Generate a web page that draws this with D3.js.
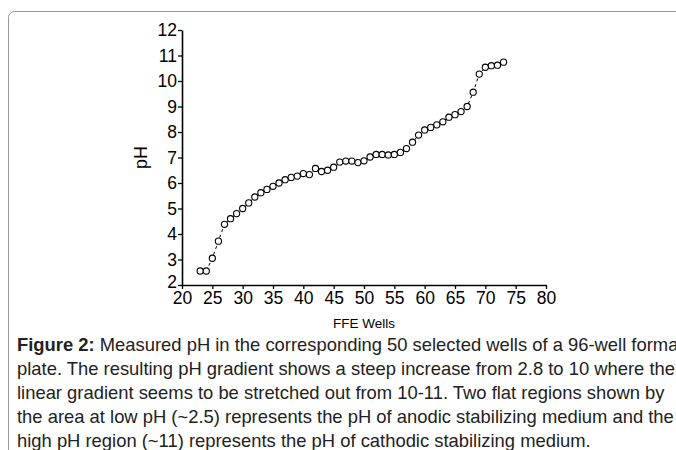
<!DOCTYPE html>
<html><head><meta charset="utf-8">
<script src="https://cdn.jsdelivr.net/npm/d3@7"></script>
<style>body{margin:0;background:#fff}svg{display:block}</style>
</head><body>
<script>
const wells = d3.range(23, 74);
const ph = [2.55,2.55,3.05,3.72,4.38,4.6,4.8,5.0,5.22,5.45,5.62,5.75,5.87,6.0,6.13,6.22,6.27,6.37,6.33,6.57,6.45,6.5,6.62,6.82,6.86,6.86,6.8,6.87,7.02,7.12,7.12,7.1,7.12,7.2,7.35,7.6,7.88,8.08,8.18,8.28,8.4,8.58,8.68,8.8,9.0,9.56,10.27,10.54,10.6,10.62,10.74];
const xTicks = d3.range(20, 81, 5);
const yTicks = d3.range(2, 13, 1);
const captionLines = [
  ["Figure 2:", " Measured pH in the corresponding 50 selected wells of a 96-well format"],
  ["", "plate. The resulting pH gradient shows a steep increase from 2.8 to 10 where the"],
  ["", "linear gradient seems to be stretched out from 10-11. Two flat regions shown by"],
  ["", "the area at low pH (~2.5) represents the pH of anodic stabilizing medium and the"],
  ["", "high pH region (~11) represents the pH of cathodic stabilizing medium."]
];

const W = 676, H = 450;
const svg = d3.select("body").append("svg").attr("width", W).attr("height", H);
svg.append("rect").attr("x", 8.5).attr("y", 11.5).attr("width", 700).attr("height", 500)
  .attr("rx", 6).attr("fill", "none").attr("stroke", "#9a9a9a").attr("stroke-width", 1);

const x = d3.scaleLinear().domain([20, 80]).range([182, 546]);
const y = d3.scaleLinear().domain([2, 12]).range([285, 30]);
const font = "Liberation Sans, Arial, sans-serif";

const gx = svg.append("g").attr("transform", `translate(0,${y(2)})`)
  .call(d3.axisBottom(x).tickValues(xTicks).tickSize(4).tickSizeOuter(0).tickPadding(3));
const gy = svg.append("g").attr("transform", `translate(${x(20)},0)`)
  .call(d3.axisLeft(y).tickValues(yTicks).tickSize(4).tickSizeOuter(0).tickPadding(1));
[gx, gy].forEach(g => {
  g.select(".domain").attr("stroke", "#000").attr("stroke-width", 1.6);
  g.selectAll(".tick line").attr("stroke", "#000").attr("stroke-width", 1.3);
  g.selectAll(".tick text").attr("fill", "#000").style("font-family", font).style("font-size", "17.5px");
});
gy.selectAll(".tick text").filter(d => d === 2).attr("dy", "0.12em");

svg.append("text").attr("x", x(50)).attr("y", 328).attr("text-anchor", "middle")
  .style("font-family", font).style("font-size", "13.5px").text("FFE Wells");
svg.append("text").attr("transform", `translate(147,${y(7)}) rotate(-90)`).attr("text-anchor", "middle")
  .style("font-family", font).style("font-size", "18px").text("pH");

const data = wells.map((w, i) => ({w, v: ph[i]}));
svg.append("path").datum(data)
  .attr("d", d3.line().x(d => x(d.w)).y(d => y(d.v)))
  .attr("fill", "none").attr("stroke", "#000").attr("stroke-width", 1).attr("stroke-dasharray", "3,3");
svg.append("g").selectAll("circle").data(data).join("circle")
  .attr("cx", d => x(d.w)).attr("cy", d => y(d.v)).attr("r", 3.1)
  .attr("fill", "#fff").attr("stroke", "#000").attr("stroke-width", 1.1);

const cap = svg.append("g").style("font-family", font).style("font-size", "18.4px");
captionLines.forEach((l, i) => {
  const t = cap.append("text").attr("x", 17).attr("y", 351 + i * 24).attr("fill", "#222");
  if (l[0]) t.append("tspan").attr("font-weight", "bold").text(l[0]);
  t.append("tspan").text(l[1]);
});
</script>
</body></html>
